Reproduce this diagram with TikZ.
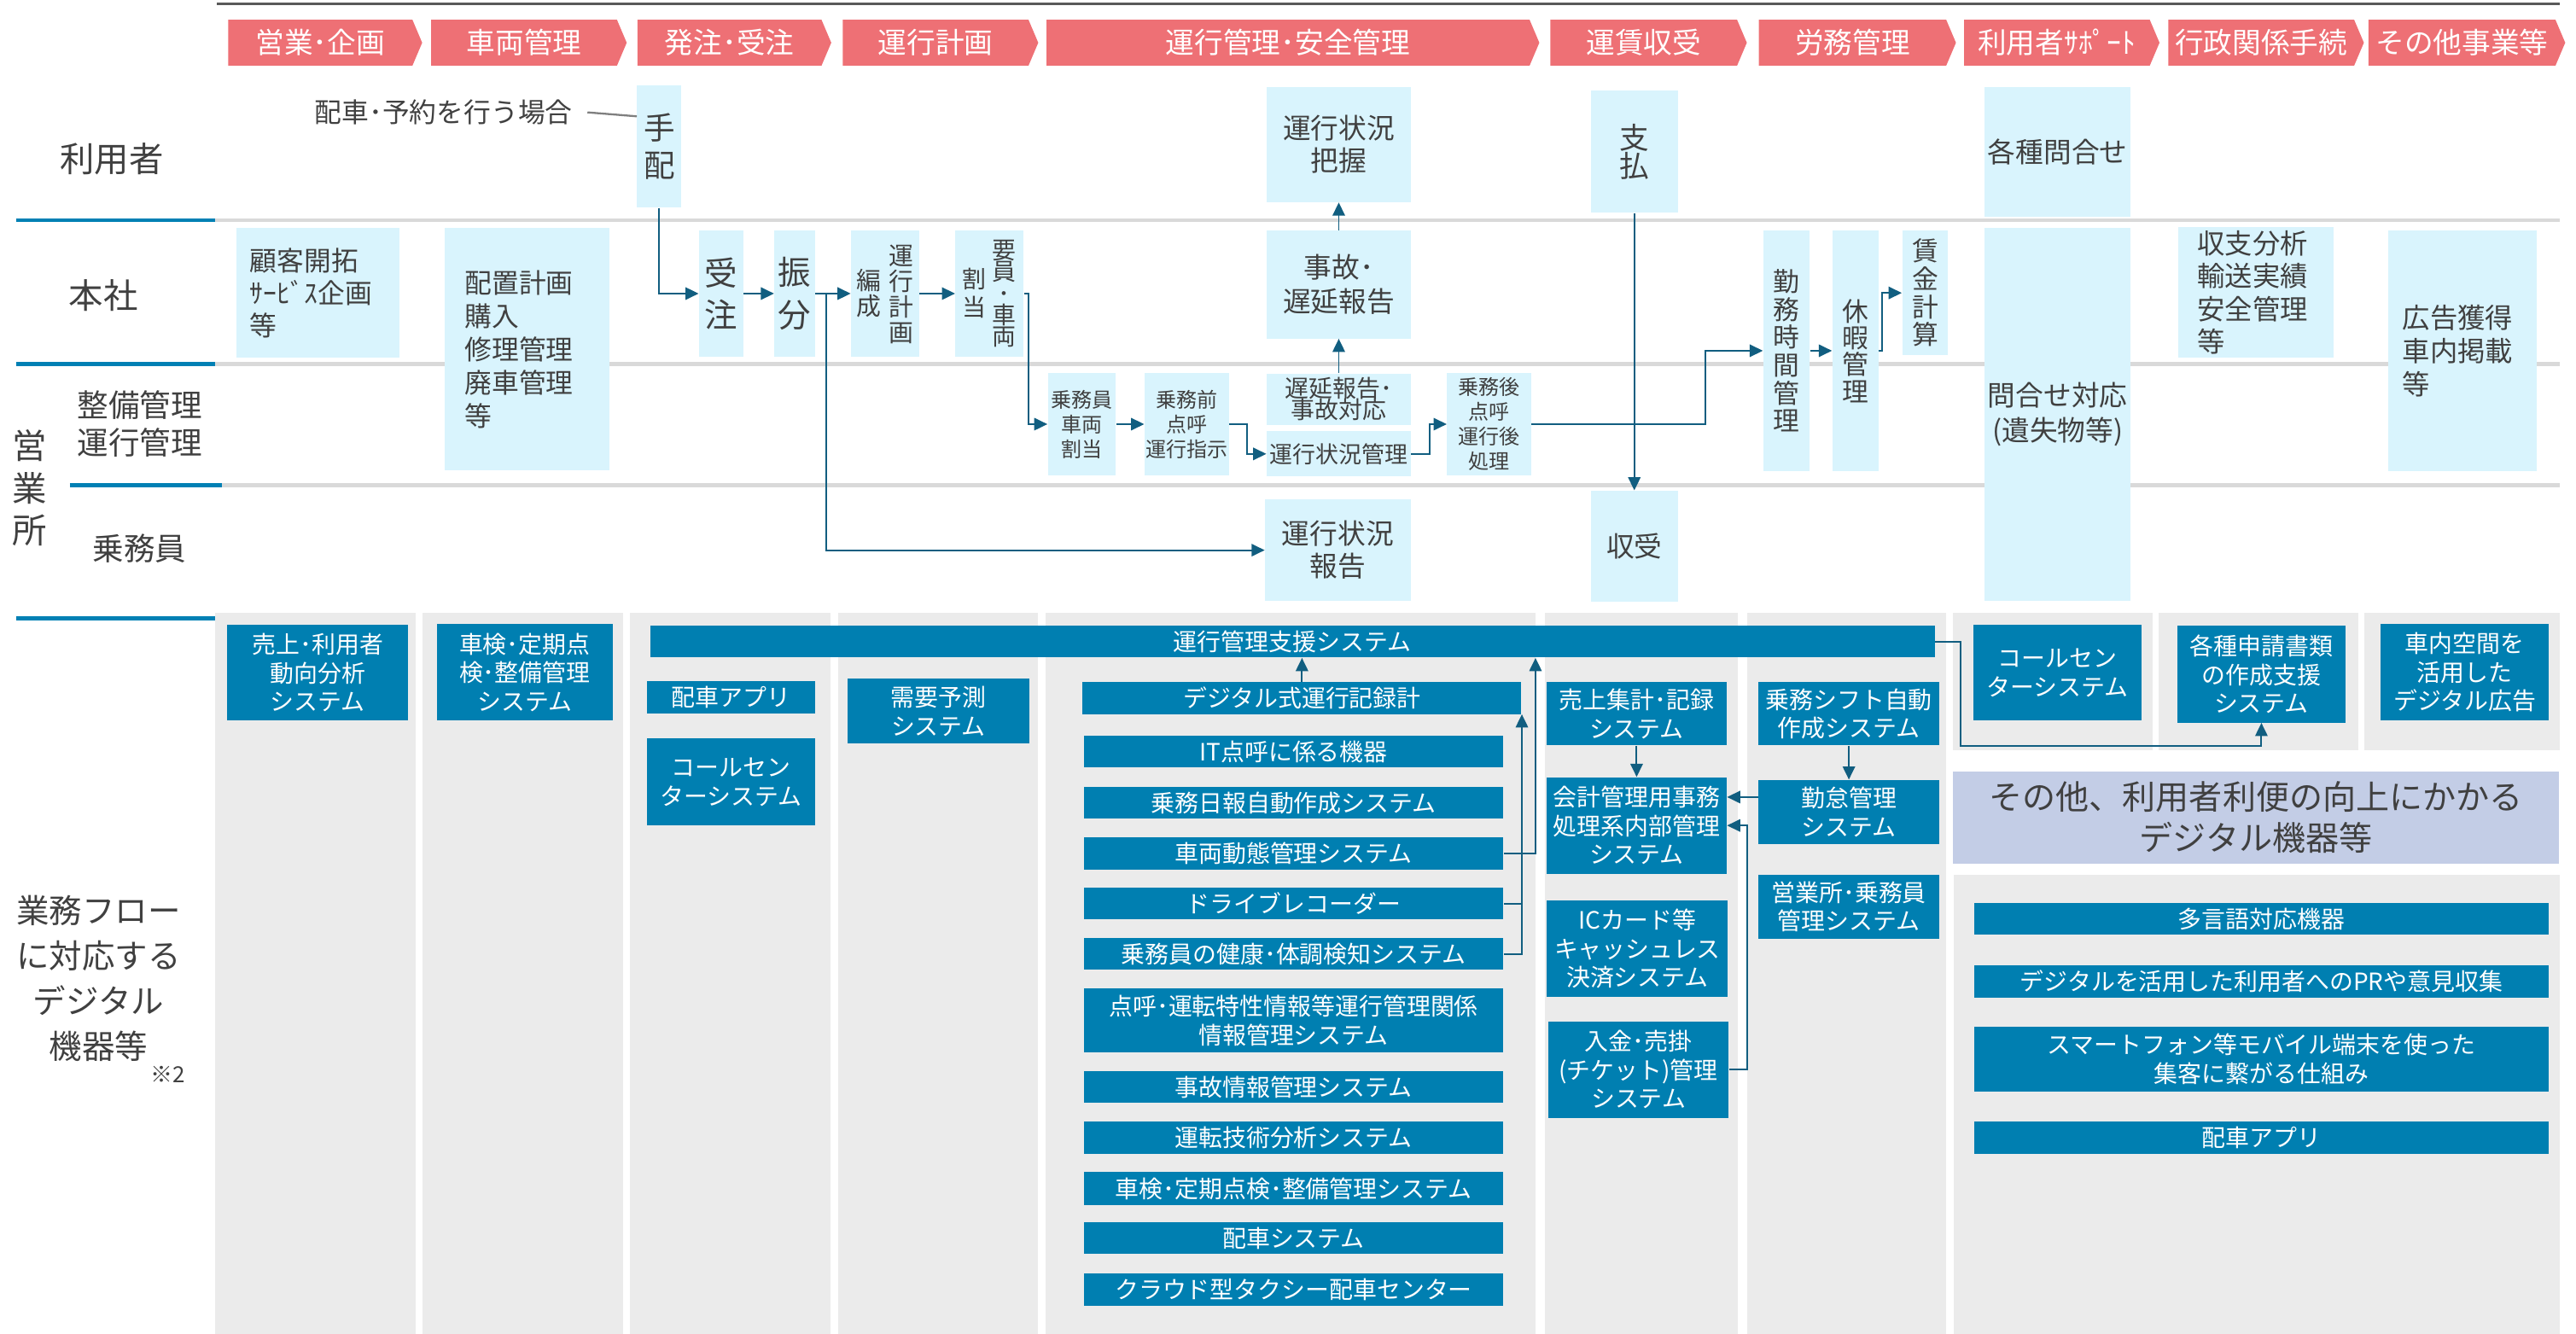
\documentclass[tikz,border=0pt]{standalone}
\usepackage{fontspec}
\setmainfont{Noto Sans CJK JP}
\usetikzlibrary{arrows.meta,shapes.symbols,calc}
\definecolor{headred}{RGB}{238,112,117}
\definecolor{boxcyan}{RGB}{217,244,253}
\definecolor{sysblue}{RGB}{0,127,177}
\definecolor{arrowblue}{RGB}{17,94,128}
\definecolor{lanegray}{RGB}{217,217,217}
\definecolor{laneblue}{RGB}{0,128,180}
\definecolor{colgray}{RGB}{235,235,235}
\definecolor{othblue}{RGB}{195,205,230}
\definecolor{txtgray}{RGB}{64,64,64}
\definecolor{notegray}{RGB}{127,127,127}
\newcommand\fsz[2]{\fontsize{#1pt}{#2pt}\selectfont\lineskiplimit=-\maxdimen\relax}

\begin{document}
\begin{tikzpicture}[x=1pt,y=-1pt]
        \tikzstyle{every node}=[inner sep=0pt, text=txtgray]
        \tikzstyle{head}=[signal, signal to=east, signal from=nowhere, signal pointer angle=134,
            fill=headred, text=white, minimum height=28pt, font=\fsz{17.5}{20}]
        \tikzstyle{cyanbox}=[fill=boxcyan, align=center, font=\fsz{17}{19.8}]
        \tikzstyle{sysbox}=[fill=sysblue, text=white, align=center, font=\fsz{14.5}{17.4}]
        \tikzstyle{lanelabel}=[align=center, font=\fsz{21}{25}]
        \tikzstyle{lane}=[draw=lanegray, line width=2.5pt]
        \tikzstyle{laneb}=[draw=laneblue, line width=2.5pt]
        \tikzstyle{flowline}=[draw=arrowblue, line width=1pt]
        \tikzstyle{flow}=[flowline, -{Triangle[length=8pt,width=7.5pt]}]
        \tikzstyle{notel}=[draw=notegray, line width=1.2pt]

        \useasboundingbox (0,0) rectangle (1568,812);

        % rule and lanes
        \draw[draw=black!65, line width=1.2pt] (132,2.3) -- (1558,2.3);
        \draw[lane] (131,134) -- (1558,134);
        \draw[lane] (131,221.6) -- (1558,221.6);
        \draw[lane] (135,295.3) -- (1558,295.3);
        \draw[laneb] (10,134) -- (131,134);
        \draw[laneb] (10,221.6) -- (131,221.6);
        \draw[laneb] (42.5,295.3) -- (135,295.3);
        \draw[laneb] (10,376.6) -- (131,376.6);

        % columns of the lower part
        \fill[colgray] (131,373) rectangle (253,812);
        \fill[colgray] (257,373) rectangle (379.4,812);
        \fill[colgray] (383.6,373) rectangle (505.7,812);
        \fill[colgray] (510,373) rectangle (632,812);
        \fill[colgray] (636.3,373) rectangle (934.4,812);
        \fill[colgray] (940.3,373) rectangle (1058,812);
        \fill[colgray] (1063.4,373) rectangle (1184.8,812);
        \fill[colgray] (1188.9,373) rectangle (1310.5,456.7);
        \fill[colgray] (1314,373) rectangle (1435.7,456.7);
        \fill[colgray] (1439.3,373) rectangle (1558,456.7);
        \fill[colgray] (1189,532.4) rectangle (1558,812);

        % header
        \node[head, minimum width=118pt] (h1) at (195,26) {営業･企画};
        \node[head, minimum width=119pt] (h2) at (319,26) {車両管理};
        \node[head, minimum width=118pt] (h3) at (444,26) {発注･受注};
        \node[head, minimum width=119pt] (h4) at (569.5,26) {運行計画};
        \node[head, minimum width=300pt] (h5) at (784,26) {運行管理･安全管理};
        \node[head, minimum width=119.6pt] (h6) at (1000.5,26) {運賃収受};
        \node[head, minimum width=120pt] (h7) at (1127.6,26) {労務管理};
        \node[head, minimum width=119pt] (h8) at (1252,26) {利用者ｻﾎﾟｰﾄ};
        \node[head, minimum width=119pt] (h9) at (1376.4,26) {行政関係手続};
        \node[head, minimum width=119.7pt] (h10) at (1498.6,26) {その他事業等};

        % lane labels
        \node[lanelabel] (riyosha) at (68,97) {利用者};
        \node[lanelabel] (honsha) at (63,180) {本社};
        \node[lanelabel, font=\fsz{19}{23}] (seibi) at (85,258) {整備管理\\運行管理};
        \node[lanelabel, font=\fsz{21}{25.5}] (eigyosho) at (18,297) {営\\業\\所};
        \node[lanelabel, font=\fsz{19}{23}] (jomuin) at (85,334) {乗務員};
        \node[lanelabel, font=\fsz{20}{27.5}] (gyomu) at (60,595.5) {業務フロー\\に対応する\\デジタル\\機器等};
        \node[font=\fsz{13.5}{15}] (kome) at (102,654) {※2};

        % flow of work
        \node[cyanbox, minimum width=27pt, minimum height=74.2pt, font=\fsz{19}{23}] (tehai) at (401.3,89.3) {手\\配};
        \node[font=\fsz{16.5}{19}] (note) at (270,68.4) {配車･予約を行う場合};
        \node[cyanbox, minimum width=99.4pt, minimum height=79pt, text width=83pt, align=left, font=\fsz{16.5}{19.7}] (kokyaku) at (193.7,178.2) {顧客開拓\\ｻｰﾋﾞｽ企画\\等};
        \node[cyanbox, minimum width=100.2pt, minimum height=147.8pt, text width=75.8pt, align=left, font=\fsz{16.5}{20.2}] (haichi) at (320.9,212.6) {配置計画\\購入\\修理管理\\廃車管理\\等};
        \node[cyanbox, minimum width=27.1pt, minimum height=76.6pt, font=\fsz{20}{25.5}] (juchu) at (439,178.7) {受\\注};
        \node[cyanbox, minimum width=24.7pt, minimum height=76.6pt, font=\fsz{20}{25.5}] (furiwake) at (483.7,178.7) {振\\分};
        \node[cyanbox, minimum width=41.6pt, minimum height=76.6pt] (hensei) at (538.8,178.7) {};
        \node[align=center, font=\fsz{15}{15.6}] (hensei-r) at (548.7,179.2) {運\\行\\計\\画};
        \node[align=center, font=\fsz{15}{15.6}] (hensei-l) at (529,178.4) {編\\成};
        \node[cyanbox, minimum width=41.5pt, minimum height=76.6pt] (yoin) at (602.3,178.7) {};
        \node[align=center, font=\fsz{14.5}{13.2}] (yoin-r) at (611.3,178.8) {要\\員\\･\\車\\両};
        \node[align=center, font=\fsz{14.5}{17.3}] (yoin-l) at (593.2,178.4) {割\\当};

        \node[cyanbox, minimum width=87.8pt, minimum height=70.1pt] (haaku) at (814.9,88) {運行状況\\把握};
        \node[cyanbox, minimum width=87.8pt, minimum height=65.6pt, font=\fsz{17}{20.9}] (jiko) at (814.9,173.2) {事故･\\遅延報告};
        \node[cyanbox, minimum width=87.8pt, minimum height=31.3pt, font=\fsz{14.5}{12.8}] (chien) at (814.9,243) {遅延報告･\\事故対応};
        \node[cyanbox, minimum width=87.8pt, minimum height=27.4pt, font=\fsz{14}{16}] (jokyo) at (814.9,276.3) {運行状況管理};
        \node[cyanbox, minimum width=41.5pt, minimum height=62.5pt, font=\fsz{12.5}{15.1}] (wariate) at (658.5,258.2) {乗務員\\車両\\割当};
        \node[cyanbox, minimum width=51.3pt, minimum height=62.5pt, font=\fsz{12.5}{15.1}] (tenko) at (722.3,258.2) {乗務前\\点呼\\運行指示};
        \node[cyanbox, minimum width=51pt, minimum height=62.5pt, font=\fsz{12.5}{15.1}] (jomugo) at (906.3,258.2) {乗務後\\点呼\\運行後\\処理};
        \node[cyanbox, minimum width=88.6pt, minimum height=61.8pt] (hokoku) at (814.3,334.9) {運行状況\\報告};

        \node[cyanbox, minimum width=52.9pt, minimum height=74.3pt, font=\fsz{18}{17.4}] (shiharai) at (994.8,92.4) {支\\払};
        \node[cyanbox, minimum width=52.9pt, minimum height=67.6pt] (shuju) at (994.8,332.5) {収受};

        \node[cyanbox, minimum width=28.3pt, minimum height=146.1pt, font=\fsz{16}{17}] (kinmu) at (1087.4,213.5) {勤\\務\\時\\間\\管\\理};
        \node[cyanbox, minimum width=28pt, minimum height=146.1pt, font=\fsz{16}{16.3}] (kyuka) at (1129.3,213.5) {休\\暇\\管\\理};
        \node[cyanbox, minimum width=28pt, minimum height=75.8pt, font=\fsz{16}{17}] (chingin) at (1171.8,178.3) {賃\\金\\計\\算};

        \node[cyanbox, minimum width=89pt, minimum height=78.9pt] (toiawase) at (1252.5,92.4) {各種問合せ};
        \node[cyanbox, minimum width=89pt, minimum height=227.3pt, font=\fsz{17}{21}] (taio) at (1252.5,252.2) {問合せ対応\\(遺失物等)};
        \node[cyanbox, minimum width=94.8pt, minimum height=79.1pt, text width=71.2pt, align=left, font=\fsz{16.8}{20}] (shushi) at (1373.2,178) {収支分析\\輸送実績\\安全管理\\等};
        \node[cyanbox, minimum width=90.4pt, minimum height=146.1pt, text width=72.8pt, align=left, font=\fsz{16.8}{20.3}] (kokoku) at (1498.8,213.5) {広告獲得\\車内掲載\\等};

        \draw[notel] ([xshift=9pt]note.east) -- ([yshift=18.5pt]tehai.west);
        \draw[flow] (tehai.south) |- (juchu.west);
        \draw[flow] (juchu.east) -- (furiwake.west);
        \draw[flow] (furiwake.east) -- (hensei.west);
        \coordinate (fb) at ($(furiwake.east)!0.32!(hensei.west)$);
        \draw[flow] (fb) |- (hokoku.west);
        \draw[flow] (hensei.east) -- (yoin.west);
        \draw[flow] (yoin.east) -- ++(3,0) |- (wariate.west);
        \draw[flow] (wariate.east) -- (tenko.west);
        \draw[flow] (tenko.east) -- ++(11,0) |- (jokyo.west);
        \draw[flow] (jokyo.east) -- ++(11,0) |- (jomugo.west);
        \draw[flow] (jomugo.east) -- ++(106,0) |- (kinmu.west);
        \draw[flow] (kinmu.east) -- (kyuka.west);
        \draw[flow] (kyuka.east) -- ++(2,0) |- (chingin.west);
        \draw[flow] (chien.north) -- (jiko.south);
        \draw[flow] (jiko.north) -- (haaku.south);
        \draw[flow] (shiharai.south) -- (shuju.north);

        % digital equipment
        \node[sysbox, minimum width=110.2pt, minimum height=58.3pt] (uriage) at (193.4,409.5) {売上･利用者\\動向分析\\システム};
        \node[sysbox, minimum width=106.8pt, minimum height=58.9pt] (shaken1) at (319.4,409.2) {車検･定期点\\検･整備管理\\システム};
        \node[sysbox, minimum width=781.9pt, minimum height=19.4pt] (shien) at (786.6,390.6) {運行管理支援システム};
        \node[sysbox, minimum width=102.2pt, minimum height=19.5pt] (app1) at (445.1,424.4) {配車アプリ};
        \node[sysbox, minimum width=102.2pt, minimum height=52.9pt] (call1) at (445.1,476) {コールセン\\ターシステム};
        \node[sysbox, minimum width=110.3pt, minimum height=39.4pt] (juyo) at (571.2,432.9) {需要予測\\システム};

        \node[sysbox, minimum width=267.1pt, minimum height=19.4pt] (dtg) at (792.5,424.9) {デジタル式運行記録計};
        \node[sysbox, minimum width=255.5pt, minimum height=19.4pt] (itten) at (787.4,457.5) {IT点呼に係る機器};
        \node[sysbox, minimum width=255.5pt, minimum height=19.4pt] (nippo) at (787.4,488.7) {乗務日報自動作成システム};
        \node[sysbox, minimum width=255.5pt, minimum height=19.4pt] (dotai) at (787.4,519.5) {車両動態管理システム};
        \node[sysbox, minimum width=255.5pt, minimum height=19.4pt] (drec) at (787.4,550) {ドライブレコーダー};
        \node[sysbox, minimum width=255.5pt, minimum height=19.4pt] (kenko) at (787.4,580.7) {乗務員の健康･体調検知システム};
        \node[sysbox, minimum width=255.5pt, minimum height=39.1pt] (tokusei) at (787.4,621.2) {点呼･運転特性情報等運行管理関係\\情報管理システム};
        \node[sysbox, minimum width=255.5pt, minimum height=19.4pt] (jikojoho) at (787.4,661.7) {事故情報管理システム};
        \node[sysbox, minimum width=255.5pt, minimum height=19.4pt] (gijutsu) at (787.4,692.6) {運転技術分析システム};
        \node[sysbox, minimum width=255.5pt, minimum height=20pt] (shaken2) at (787.4,723.5) {車検･定期点検･整備管理システム};
        \node[sysbox, minimum width=255.5pt, minimum height=19.4pt] (haisha) at (787.4,753.7) {配車システム};
        \node[sysbox, minimum width=255.5pt, minimum height=19.4pt] (cloud) at (787.4,785) {クラウド型タクシー配車センター};

        \node[sysbox, minimum width=109.7pt, minimum height=38.6pt] (shukei) at (996.2,434.5) {売上集計･記録\\システム};
        \node[sysbox, minimum width=109.7pt, minimum height=58.7pt] (kaikei) at (996.2,502.5) {会計管理用事務\\処理系内部管理\\システム};
        \node[sysbox, minimum width=110.1pt, minimum height=58.6pt] (ic) at (996.7,577.5) {ICカード等\\キャッシュレス\\決済システム};
        \node[sysbox, minimum width=109.8pt, minimum height=58.3pt] (nyukin) at (997.3,651.2) {入金･売掛\\(チケット)管理\\システム};

        \node[sysbox, minimum width=110.1pt, minimum height=38.6pt] (shift) at (1125.4,434.5) {乗務シフト自動\\作成システム};
        \node[sysbox, minimum width=110.1pt, minimum height=38.9pt] (kintai) at (1125.4,494.2) {勤怠管理\\システム};
        \node[sysbox, minimum width=110.1pt, minimum height=38.9pt] (eigyo) at (1125.4,551.9) {営業所･乗務員\\管理システム};

        \node[sysbox, minimum width=102.1pt, minimum height=58.3pt] (call2) at (1252.4,409.5) {コールセン\\ターシステム};
        \node[sysbox, minimum width=102.3pt, minimum height=58.9pt] (shinsei) at (1376.5,410.4) {各種申請書類\\の作成支援\\システム};
        \node[sysbox, minimum width=102.3pt, minimum height=58.9pt] (shanai) at (1500.2,409.2) {車内空間を\\活用した\\デジタル広告};
        \node[fill=othblue, align=center, minimum width=368.7pt, minimum height=55.8pt, font=\fsz{20.3}{25}] (sonota) at (1373.2,497.7) {その他、利用者利便の向上にかかる\\デジタル機器等};
        \node[sysbox, minimum width=349.7pt, minimum height=19.4pt] (tagengo) at (1376.5,559.3) {多言語対応機器};
        \node[sysbox, minimum width=349.7pt, minimum height=19.4pt] (pr) at (1376.5,597.4) {デジタルを活用した利用者へのPRや意見収集};
        \node[sysbox, minimum width=349.7pt, minimum height=39.2pt] (smart) at (1376.5,644.7) {スマートフォン等モバイル端末を使った\\集客に繋がる仕組み};
        \node[sysbox, minimum width=349.7pt, minimum height=19.4pt] (app2) at (1376.5,692.6) {配車アプリ};

        \draw[flow] (dtg.north) -- (dtg.north |- shien.south);
        \draw[flow] (dotai.east) -- ++(19.3,0) coordinate (dotaiup) -- (dotaiup |- shien.south);
        \draw[flow] (drec.east) -- ++(11,0) coordinate (drecup) -- (drecup |- dtg.south);
        \draw[flowline] (kenko.east) -- ++(11,0) -- (drecup);
        \draw[flow] (shukei.south) -- (kaikei.north);
        \draw[flow] (shift.south) -- (kintai.north);
        \draw[flow] ([yshift=9pt]kintai.west) -- ([yshift=9pt]kintai.west -| kaikei.east);
        \draw[flow] (nyukin.east) -- ++(11.3,0) |- (kaikei.east);
        \draw[flow] (shien.east) -- ++(15.7,0) |- ([yshift=-14pt]shinsei.south) -- (shinsei.south);
    \end{tikzpicture}
\end{document}
